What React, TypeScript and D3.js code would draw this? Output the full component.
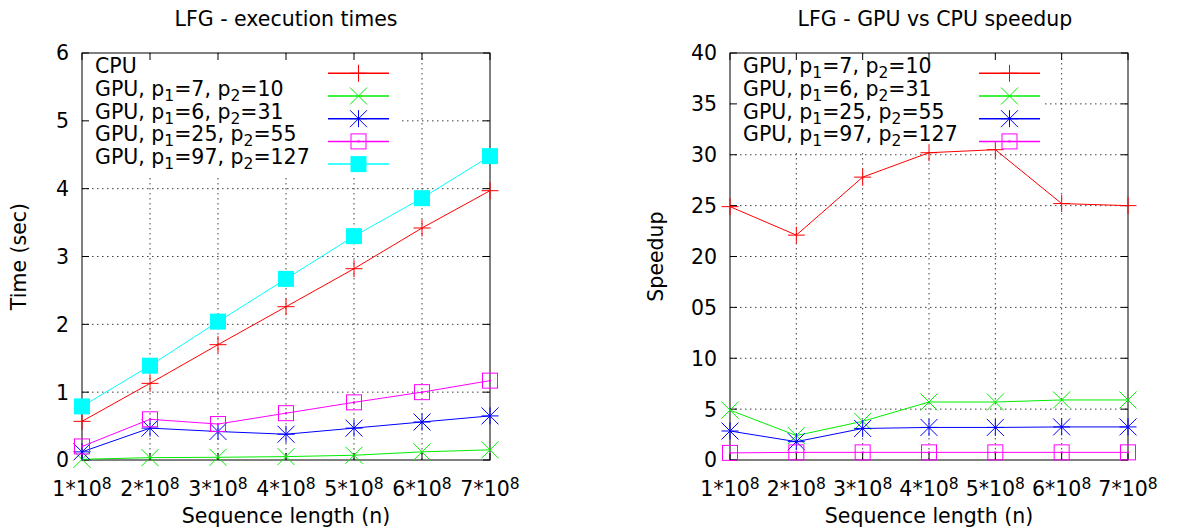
import React from "react";
import * as d3 from "d3";

// x positions: sequence length in units of 10^8
const xCats = [1, 2, 3, 4, 5, 6, 7];

// left chart: execution times (sec)
const cpuTimes = [0.57, 1.13, 1.7, 2.26, 2.82, 3.42, 3.97];
const gpu7x10Times = [0.01, 0.035, 0.04, 0.05, 0.07, 0.12, 0.15];
const gpu6x31Times = [0.12, 0.47, 0.42, 0.38, 0.47, 0.56, 0.65];
const gpu25x55Times = [0.2, 0.6, 0.53, 0.69, 0.85, 1.0, 1.17];
const gpu97x127Times = [0.79, 1.39, 2.04, 2.67, 3.3, 3.86, 4.48];

// right chart: speedup
const gpu7x10Speedup = [24.9, 22.1, 27.8, 30.2, 30.5, 25.2, 25.0];
const gpu6x31Speedup = [4.9, 2.4, 3.8, 5.7, 5.7, 5.9, 5.9];
const gpu25x55Speedup = [2.85, 1.8, 3.1, 3.2, 3.2, 3.25, 3.25];
const gpu97x127Speedup = [0.7, 0.75, 0.75, 0.75, 0.75, 0.75, 0.75];

const timeTicks = [0, 1, 2, 3, 4, 5, 6];
const timeTickLabels = ["0", "1", "2", "3", "4", "5", "6"];
const speedTicks = [0, 5, 10, 15, 20, 25, 30, 35, 40];
const speedTickLabels = ["0", "5", "10", "05", "20", "25", "30", "35", "40"];

type Marker = "plus" | "cross" | "star" | "box" | "fbox";

const FONT = "'DejaVu Sans', sans-serif";
const FS = 20.5;

function MarkerShape({ type, x, y, color }: { type: Marker; x: number; y: number; color: string }) {
  const s = 8.5;
  if (type === "plus")
    return <path d={`M${x - s},${y}H${x + s}M${x},${y - s}V${y + s}`} stroke={color} strokeWidth={1} />;
  if (type === "cross")
    return <path d={`M${x - s},${y - s}L${x + s},${y + s}M${x - s},${y + s}L${x + s},${y - s}`} stroke={color} strokeWidth={1} />;
  if (type === "star")
    return (
      <path
        d={`M${x - s},${y}H${x + s}M${x},${y - s}V${y + s}M${x - s},${y - s}L${x + s},${y + s}M${x - s},${y + s}L${x + s},${y - s}`}
        stroke={color}
        strokeWidth={1}
      />
    );
  if (type === "box")
    return (
      <g>
        <rect x={x - 7.5} y={y - 7.5} width={15} height={15} fill="none" stroke={color} strokeWidth={1} />
        <rect x={x - 1} y={y - 1} width={2} height={2} fill={color} />
      </g>
    );
  return <rect x={x - 8} y={y - 8} width={16} height={16} fill={color} />;
}

function Label({ parts }: { parts: [string, string][] }) {
  // parts: [text, "n" | "sub" | "sup"]
  return (
    <>
      {parts.map(([t, k], i) => {
        const prev = i > 0 ? parts[i - 1][1] : "n";
        let dy = 0;
        if (k === "sub") dy = 5;
        if (k === "sup") dy = -7;
        if (prev === "sub") dy -= 5;
        if (prev === "sup") dy += 7;
        return (
          <tspan key={i} dy={dy} fontSize={k === "n" ? FS : 15.5}>
            {t}
          </tspan>
        );
      })}
    </>
  );
}

const gpuLabel = (a: string, b: string): [string, string][] => [
  ["GPU, p", "n"],
  ["1", "sub"],
  [`=${a}, p`, "n"],
  ["2", "sub"],
  [`=${b}`, "n"],
];

type Series = { values: number[]; color: string; marker: Marker; label: [string, string][] };

function Panel({
  left,
  right,
  top,
  bottom,
  yMax,
  yTicks,
  yTickLabels,
  title,
  titleX,
  yLabel,
  yLabelX,
  series,
  keyTextX,
  keySampleX0,
  keySampleX1,
  keyRight,
  keyBottom,
}: {
  left: number;
  right: number;
  top: number;
  bottom: number;
  yMax: number;
  yTicks: number[];
  yTickLabels: string[];
  title: string;
  titleX: number;
  yLabel: string;
  yLabelX: number;
  series: Series[];
  keyTextX: number;
  keySampleX0: number;
  keySampleX1: number;
  keyRight: number;
  keyBottom: number;
}) {
  const x = d3.scaleLinear().domain([1, 7]).range([left, right]);
  const y = d3.scaleLinear().domain([0, yMax]).range([bottom, top]);
  const line = d3
    .line<number>()
    .x((_, i) => x(xCats[i]))
    .y((d) => y(d));
  const tickLen = 7;
  const rowH = 22.7;
  const keyY0 = 73.3;

  return (
    <g fontFamily={FONT}>
      <text x={titleX} y={26} fontSize={FS} textAnchor="middle">
        {title}
      </text>
      {/* grid */}
      <g stroke="#000" strokeWidth={1} strokeDasharray="1.5,3.5" opacity={0.75}>
        {xCats.slice(1, -1).map((v) => (
          <line key={"gx" + v} x1={x(v)} x2={x(v)} y1={top} y2={bottom} />
        ))}
        {yTicks.slice(1, -1).map((v) => (
          <line key={"gy" + v} x1={left} x2={right} y1={y(v)} y2={y(v)} />
        ))}
      </g>
      {/* opaque key background */}
      <rect x={left + 1} y={top + 1} width={keyRight - left - 1} height={keyBottom - top - 1} fill="#fff" />
      {/* ticks */}
      <g stroke="#000" strokeWidth={1}>
        {xCats.map((v) => (
          <g key={"tx" + v}>
            <line x1={x(v)} x2={x(v)} y1={bottom} y2={bottom - tickLen} />
            <line x1={x(v)} x2={x(v)} y1={top} y2={top + tickLen} />
          </g>
        ))}
        {yTicks.map((v) => (
          <g key={"ty" + v}>
            <line x1={left} x2={left + tickLen} y1={y(v)} y2={y(v)} />
            <line x1={right} x2={right - tickLen} y1={y(v)} y2={y(v)} />
          </g>
        ))}
      </g>
      <rect x={left} y={top} width={right - left} height={bottom - top} fill="none" stroke="#000" strokeWidth={1} />
      {/* tick labels */}
      {yTicks.map((v, i) => (
        <text key={"yl" + v} x={left - 13} y={y(v)} dy="0.36em" fontSize={FS} textAnchor="end">
          {yTickLabels[i]}
        </text>
      ))}
      {xCats.map((v) => (
        <text key={"xl" + v} x={x(v)} y={496} fontSize={FS} textAnchor="middle">
          <Label parts={[[`${v}*10`, "n"], ["8", "sup"]]} />
        </text>
      ))}
      <text x={(left + right) / 2} y={523} fontSize={FS} textAnchor="middle">
        Sequence length (n)
      </text>
      <text
        transform={`translate(${yLabelX},${(top + bottom) / 2}) rotate(-90)`}
        fontSize={FS}
        textAnchor="middle"
      >
        {yLabel}
      </text>
      {/* data */}
      {series.map((s, si) => (
        <g key={"s" + si}>
          <path d={line(s.values) ?? ""} fill="none" stroke={s.color} strokeWidth={1} />
          {s.values.map((v, i) => (
            <MarkerShape key={i} type={s.marker} x={x(xCats[i])} y={y(v)} color={s.color} />
          ))}
        </g>
      ))}
      {/* key */}
      {series.map((s, si) => {
        const ky = keyY0 + si * rowH;
        return (
          <g key={"k" + si}>
            <text x={keyTextX} y={ky} dy="0.36em" fontSize={FS}>
              <Label parts={s.label} />
            </text>
            <line x1={keySampleX0} x2={keySampleX1} y1={ky} y2={ky} stroke={s.color} strokeWidth={1.5} />
            <MarkerShape type={s.marker} x={(keySampleX0 + keySampleX1) / 2} y={ky} color={s.color} />
          </g>
        );
      })}
    </g>
  );
}

export default function App() {
  const leftSeries: Series[] = [
    { values: cpuTimes, color: "#ff0000", marker: "plus", label: [["CPU", "n"]] },
    { values: gpu7x10Times, color: "#00ee00", marker: "cross", label: gpuLabel("7", "10") },
    { values: gpu6x31Times, color: "#0000ff", marker: "star", label: gpuLabel("6", "31") },
    { values: gpu25x55Times, color: "#ff00ff", marker: "box", label: gpuLabel("25", "55") },
    { values: gpu97x127Times, color: "#00ffff", marker: "fbox", label: gpuLabel("97", "127") },
  ];
  const rightSeries: Series[] = [
    { values: gpu7x10Speedup, color: "#ff0000", marker: "plus", label: gpuLabel("7", "10") },
    { values: gpu6x31Speedup, color: "#00ee00", marker: "cross", label: gpuLabel("6", "31") },
    { values: gpu25x55Speedup, color: "#0000ff", marker: "star", label: gpuLabel("25", "55") },
    { values: gpu97x127Speedup, color: "#ff00ff", marker: "box", label: gpuLabel("97", "127") },
  ];
  return (
    <svg
      width={1177}
      height={530}
      style={{ position: "absolute", left: 0, top: 0, background: "#fff" }}
    >
      <rect width={1177} height={530} fill="#fff" />
      <Panel
        left={82}
        right={490}
        top={53}
        bottom={460}
        yMax={6}
        yTicks={timeTicks}
        yTickLabels={timeTickLabels}
        title="LFG - execution times"
        titleX={286}
        yLabel="Time (sec)"
        yLabelX={26}
        series={leftSeries}
        keyTextX={95}
        keySampleX0={328}
        keySampleX1={389}
        keyRight={401}
        keyBottom={176}
      />
      <Panel
        left={730}
        right={1128}
        top={53}
        bottom={460}
        yMax={40}
        yTicks={speedTicks}
        yTickLabels={speedTickLabels}
        title="LFG - GPU vs CPU speedup"
        titleX={935}
        yLabel="Speedup"
        yLabelX={663}
        series={rightSeries}
        keyTextX={743}
        keySampleX0={979}
        keySampleX1={1040}
        keyRight={1042}
        keyBottom={152}
      />
    </svg>
  );
}
